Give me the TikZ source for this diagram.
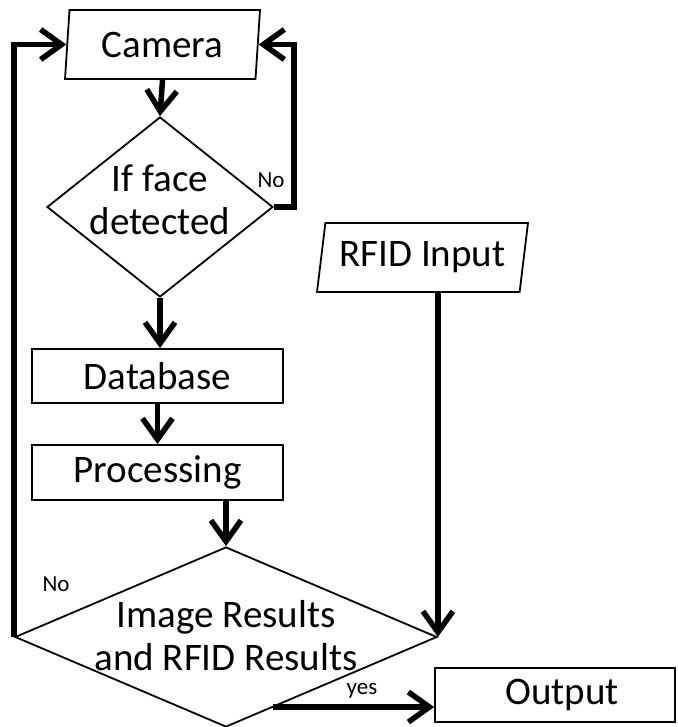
\documentclass[tikz,border=0pt]{standalone}
\usepackage{fontspec}
\setmainfont{Carlito}
\usetikzlibrary{shapes.geometric,arrows.meta,calc}

\begin{document}
\begin{tikzpicture}[x=1pt,y=-1pt,
  bigtext/.style={font=\fontsize{39}{43}\selectfont},
  box/.style={draw,line width=1.8pt,rectangle,inner sep=0pt,bigtext},
  io/.style={draw,line width=1.8pt,trapezium,trapezium stretches body,inner sep=0pt,bigtext},
  dec/.style={draw,line width=1.8pt,diamond,inner sep=0pt},
  flow/.style={line width=5.5pt,-{Straight Barb[length=21pt,width=30pt]}},
  lbl/.style={font=\fontsize{23}{26}\selectfont,inner sep=1pt}
]
\fill[white] (0,0) rectangle (677,727);
\useasboundingbox (0,0) rectangle (677,727);

% input / output shapes
\node[io, trapezium left angle=80, trapezium right angle=100,
      minimum width=195pt, minimum height=69pt] (cam) at (162.5,44.5) {Camera};
\node[io, trapezium left angle=75, trapezium right angle=105,
      minimum width=211pt, minimum height=69pt] (rfid) at (422.5,257.5) {RFID Input};

% decisions
\node[dec, minimum width=226pt, minimum height=180pt,
      label={[bigtext,align=center,yshift=7pt]center:If face\\detected}] (d1) at (160,207) {};
\node[dec, minimum width=422pt, minimum height=180pt,
      label={[bigtext,align=center,inner sep=0pt,yshift=1pt]center:Image Results\\and RFID Results}] (big) at (226,637) {};

% process boxes
\node[box, minimum width=251pt, minimum height=54pt] (db) at (157.5,376) {Database};
\node[box, minimum width=251pt, minimum height=55pt] (proc) at (157.5,472.5) {Processing};
\node[box, minimum width=240pt, minimum height=54pt,
      label={[bigtext,xshift=7pt]center:Output}] (out) at (555,695) {};

% connectors
\draw[flow] (cam.south) -- (d1.north);
\draw[flow] (d1.south) -- (d1.south |- db.north);
\draw[flow] (db.south) -- (proc.north);
\draw[flow] (proc.south -| big.north) -- (big.north);
\draw[flow] (rfid.south -| big.east) -- (big.east);
\draw[flow] (d1.east) -- ++(20,0) |- (cam.east);
\draw[flow] (big.west) |- (cam.west);
\coordinate (yesstart) at (273,707);
\draw[flow] (yesstart) -- (yesstart -| out.west);

% branch labels
\node[lbl] (no1) at (271,180) {No};
\node[lbl] (no2) at (56,584) {No};
\node[lbl] (yes) at (362,691) {yes};
\end{tikzpicture}
\end{document}
